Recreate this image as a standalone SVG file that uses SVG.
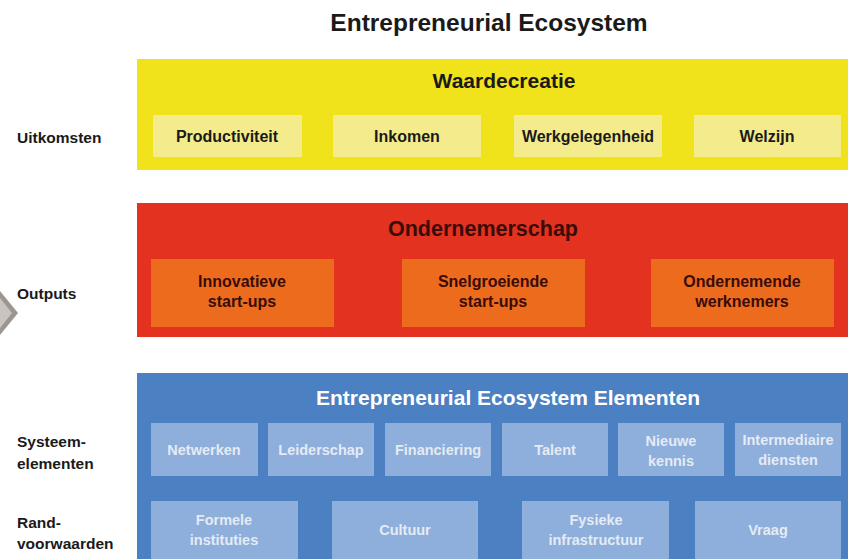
<svg xmlns="http://www.w3.org/2000/svg" width="848" height="559" viewBox="0 0 848 559">
<style>
text{font-family:"Liberation Sans",Arial,sans-serif;font-weight:bold;text-anchor:middle}
.side{text-anchor:start;font-size:15.5px;fill:#1a1a1a}
.band-y{fill:#f0e31b}
.box-y{fill:#f4ec8c}
.band-r{fill:#e3321f}
.box-r{fill:#ec6b1d}
.band-b{fill:#4b80c3}
.box-b{fill:#8eaedb}
.t-y{font-size:16px;fill:#1a1a1a}
.t-r{font-size:16px;fill:#3a0c08}
.t-b{font-size:14.5px;fill:#e4ebf5}
.h-y{font-size:21px;fill:#1a1a1a}
.h-r{font-size:21.5px;fill:#3a0c08}
.h-b{font-size:21px;fill:#ffffff}
</style>
<rect width="848" height="559" fill="#ffffff"/>
<text id="title" x="489" y="31" font-size="24.5" fill="#1a1a1a">Entrepreneurial Ecosystem</text>

<g id="side-labels">
<text class="side" x="17" y="143">Uitkomsten</text>
<text class="side" x="17" y="299">Outputs</text>
<text class="side" x="17" y="447">Systeem-</text>
<text class="side" x="17" y="469">elementen</text>
<text class="side" x="17" y="528">Rand-</text>
<text class="side" x="17" y="549">voorwaarden</text>
</g>

<g id="chevron">
<polygon points="0,291 18,313 0,335" fill="#9d9690"/>
<polygon points="0,298 12,313 0,328" fill="#c9c4bf"/>
</g>

<g id="waardecreatie">
<rect class="band-y" x="137" y="59" width="711" height="111"/>
<text class="h-y" x="504" y="88">Waardecreatie</text>
</g>
<g id="productiviteit"><rect class="box-y" x="153" y="115" width="149" height="42"/><text class="t-y" x="227" y="142">Productiviteit</text></g>
<g id="inkomen"><rect class="box-y" x="333" y="115" width="148" height="42"/><text class="t-y" x="407" y="142">Inkomen</text></g>
<g id="werkgelegenheid"><rect class="box-y" x="514" y="115" width="148" height="42"/><text class="t-y" x="588" y="142">Werkgelegenheid</text></g>
<g id="welzijn"><rect class="box-y" x="694" y="115" width="147" height="42"/><text class="t-y" x="767" y="142">Welzijn</text></g>

<g id="ondernemerschap">
<rect class="band-r" x="137" y="203" width="711" height="134"/>
<text class="h-r" x="483" y="236">Ondernemerschap</text>
</g>
<g id="innovatieve"><rect class="box-r" x="151" y="259" width="183" height="68"/><text class="t-r" x="242" y="287">Innovatieve</text><text class="t-r" x="242" y="307">start-ups</text></g>
<g id="snelgroeiende"><rect class="box-r" x="402" y="259" width="183" height="68"/><text class="t-r" x="493" y="287">Snelgroeiende</text><text class="t-r" x="493" y="307">start-ups</text></g>
<g id="ondernemende"><rect class="box-r" x="651" y="259" width="183" height="68"/><text class="t-r" x="742" y="287">Ondernemende</text><text class="t-r" x="742" y="307">werknemers</text></g>

<g id="elementen">
<rect class="band-b" x="137" y="373" width="711" height="190"/>
<text class="h-b" x="508" y="405">Entrepreneurial Ecosystem Elementen</text>
</g>
<g id="netwerken"><rect class="box-b" x="151" y="423" width="107" height="53"/><text class="t-b" x="204" y="455">Netwerken</text></g>
<g id="leiderschap"><rect class="box-b" x="268" y="423" width="106" height="53"/><text class="t-b" x="321" y="455">Leiderschap</text></g>
<g id="financiering"><rect class="box-b" x="385" y="423" width="106" height="53"/><text class="t-b" x="438" y="455">Financiering</text></g>
<g id="talent"><rect class="box-b" x="502" y="423" width="106" height="53"/><text class="t-b" x="555" y="455">Talent</text></g>
<g id="nieuwe-kennis"><rect class="box-b" x="618" y="423" width="106" height="53"/><text class="t-b" x="671" y="446">Nieuwe</text><text class="t-b" x="671" y="466">kennis</text></g>
<g id="intermediaire-diensten"><rect class="box-b" x="735" y="423" width="106" height="53"/><text class="t-b" x="788" y="445">Intermediaire</text><text class="t-b" x="788" y="465" >diensten</text></g>
<g id="formele-instituties"><rect class="box-b" x="151" y="501" width="147" height="62"/><text class="t-b" x="224" y="525">Formele</text><text class="t-b" x="224" y="545">instituties</text></g>
<g id="cultuur"><rect class="box-b" x="332" y="501" width="146" height="62"/><text class="t-b" x="405" y="535">Cultuur</text></g>
<g id="fysieke-infrastructuur"><rect class="box-b" x="522" y="501" width="147" height="62"/><text class="t-b" x="596" y="525">Fysieke</text><text class="t-b" x="596" y="545">infrastructuur</text></g>
<g id="vraag"><rect class="box-b" x="695" y="501" width="146" height="62"/><text class="t-b" x="768" y="535">Vraag</text></g>

<g id="connectors"></g>
</svg>
